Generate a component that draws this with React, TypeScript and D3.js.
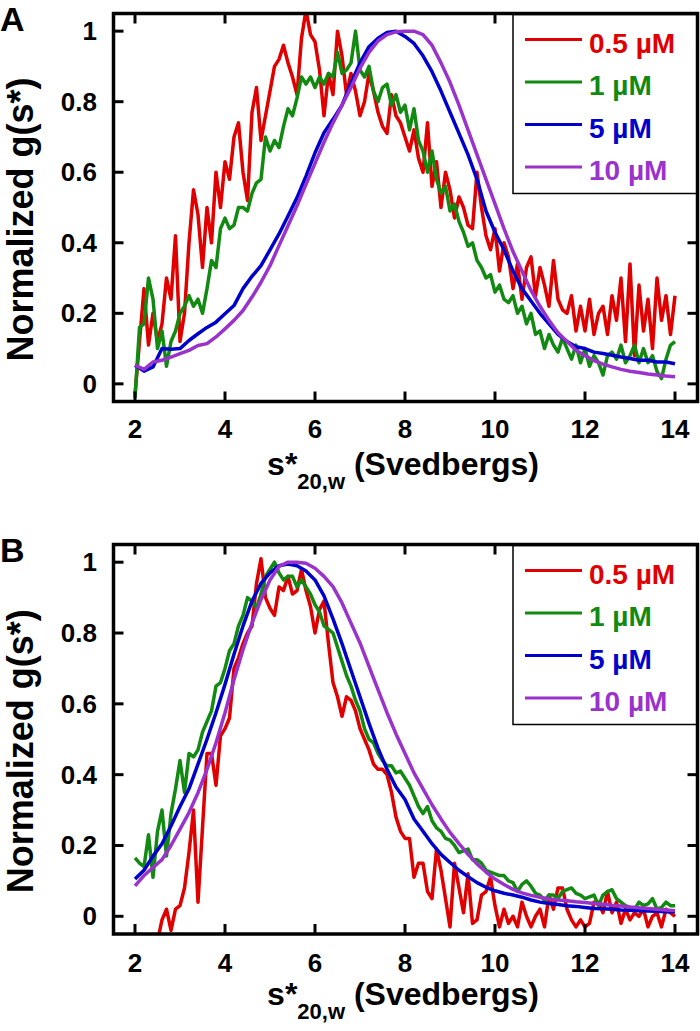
import React from 'react';
import * as d3 from 'd3';

const FONT = "'Liberation Sans', Arial, Helvetica, sans-serif";

const SERIES_LABELS = ['0.5 µM', '1 µM', '5 µM', '10 µM'];
const SERIES_COLORS = ['#e00000', '#128a12', '#0000cc', '#9933cc'];

const X_TICKS = [2, 4, 6, 8, 10, 12, 14];
const Y_TICKS = [0, 0.2, 0.4, 0.6, 0.8, 1];
const Y_TICK_LABELS = ['0', '0.2', '0.4', '0.6', '0.8', '1'];

// sampling grids (s*, Svedbergs)
const FINE_X = d3.range(121).map((i) => +(2 + i * 0.1).toFixed(1));
const COARSE_X = d3.range(61).map((i) => +(2 + i * 0.2).toFixed(1));

// ---------- Panel A ----------
const A_RED = [
  -0.03, 0.12, 0.27, 0.11, 0.2, 0.12, 0.17, 0.3, 0.24, 0.42,
  0.12, 0.2, 0.4, 0.55, 0.48, 0.33, 0.5, 0.4, 0.6, 0.5,
  0.63, 0.58, 0.7, 0.74, 0.6, 0.52, 0.77, 0.84, 0.69, 0.76,
  0.83, 0.9, 0.92, 0.96, 0.91, 0.87, 0.82, 0.98, 1.06, 0.99,
  0.97, 0.89, 0.76, 0.88, 0.82, 1.0, 0.93, 0.82, 0.88, 0.83,
  0.76, 0.8, 0.88, 0.83, 0.77, 0.73, 0.71, 0.82, 0.76, 0.74,
  0.7, 0.66, 0.72, 0.64, 0.6, 0.74, 0.56, 0.63, 0.5, 0.6,
  0.55, 0.47, 0.53, 0.5, 0.45, 0.44, 0.6, 0.5, 0.42, 0.38,
  0.44, 0.32, 0.4, 0.36, 0.27, 0.34, 0.24, 0.33, 0.36, 0.25,
  0.33, 0.28, 0.22, 0.35, 0.24, 0.21, 0.2, 0.25, 0.15, 0.22,
  0.15, 0.24, 0.14, 0.2, 0.22, 0.14, 0.25, 0.18, 0.3, 0.12,
  0.34, 0.08, 0.28, 0.15, 0.24, 0.1, 0.3, 0.18, 0.25, 0.14,
  0.25,
];
const A_GREEN = [
  -0.04, 0.16, 0.17, 0.3, 0.24, 0.1, 0.15, 0.05, 0.12, 0.15,
  0.2, 0.22, 0.25, 0.22, 0.24, 0.2, 0.27, 0.35, 0.33, 0.44,
  0.47, 0.44, 0.45, 0.5, 0.5, 0.49, 0.54, 0.57, 0.58, 0.7,
  0.66, 0.69, 0.67, 0.73, 0.78, 0.76, 0.81, 0.87, 0.85, 0.87,
  0.84, 0.87, 0.85, 0.88, 0.87, 0.94, 0.88, 0.89, 0.91, 1.0,
  0.89, 0.87, 0.9, 0.83, 0.8, 0.84, 0.85, 0.79, 0.82, 0.77,
  0.79, 0.72, 0.78, 0.69, 0.66, 0.6, 0.66, 0.58, 0.54, 0.56,
  0.49, 0.51, 0.46, 0.43, 0.39, 0.4, 0.35, 0.33, 0.3, 0.31,
  0.26, 0.28, 0.24, 0.23, 0.25, 0.2, 0.22, 0.17, 0.2, 0.14,
  0.15, 0.1, 0.14, 0.11, 0.09, 0.13, 0.1, 0.07, 0.11, 0.06,
  0.1, 0.05, 0.08, 0.06, 0.025, 0.08, 0.09, 0.07, 0.11, 0.06,
  0.08, 0.11, 0.06, 0.1, 0.06, 0.08, 0.035, 0.015, 0.07, 0.11,
  0.12,
];
const A_BLUE = [
  0.053, 0.036, 0.048, 0.1, 0.098, 0.1, 0.123, 0.142, 0.16, 0.175,
  0.199, 0.222, 0.27, 0.305, 0.335, 0.38, 0.425, 0.476, 0.528, 0.589,
  0.655, 0.712, 0.75, 0.79, 0.853, 0.91, 0.956, 0.98, 0.996, 1.0,
  0.985, 0.965, 0.93, 0.885, 0.83, 0.77, 0.71, 0.65, 0.58, 0.49,
  0.43, 0.38, 0.32, 0.27, 0.235, 0.2, 0.17, 0.14, 0.12, 0.105,
  0.1, 0.09, 0.086, 0.081, 0.076, 0.072, 0.067, 0.067, 0.062, 0.062,
  0.057,
];
const A_PURPLE = [
  0.053, 0.041, 0.062, 0.067, 0.076, 0.086, 0.095, 0.109, 0.114, 0.133,
  0.156, 0.18, 0.208, 0.246, 0.288, 0.335, 0.392, 0.448, 0.505, 0.566,
  0.625, 0.685, 0.74, 0.79, 0.84, 0.895, 0.94, 0.972, 0.99, 0.998,
  1.0, 1.0, 0.99, 0.96, 0.91, 0.855, 0.79, 0.72, 0.65, 0.58,
  0.51, 0.44, 0.375, 0.32, 0.265, 0.22, 0.18, 0.145, 0.12, 0.095,
  0.08, 0.066, 0.056, 0.048, 0.041, 0.036, 0.032, 0.028, 0.025, 0.022,
  0.02,
];

// ---------- Panel B ----------
const B_RED = [
  -0.12, -0.1, -0.15, -0.09, -0.12, -0.07, -0.01, 0.02, -0.04, 0.02,
  0.03, 0.08, 0.18, 0.3, 0.04, 0.25, 0.46, 0.46, 0.37, 0.51,
  0.53, 0.56, 0.7, 0.73, 0.77, 0.8, 0.82, 0.94, 1.01, 0.9,
  0.87, 0.85, 0.93, 0.92, 0.96, 0.91, 0.92, 0.98, 0.92, 0.875,
  0.8, 0.866, 0.89, 0.77, 0.66, 0.62, 0.565, 0.62, 0.61, 0.58,
  0.53, 0.5, 0.47, 0.43, 0.415, 0.415, 0.4, 0.35, 0.28, 0.24,
  0.22, 0.22, 0.11, 0.15, 0.15, 0.07, 0.05, 0.19, 0.13, 0.05,
  -0.03, 0.15, 0.08, 0.01, 0.12, -0.02, -0.01, 0.06, 0.07, 0.11,
  0.03, -0.03, 0.02, -0.02, 0.0, -0.03, 0.04, 0.0, -0.03, 0.0,
  0.02, -0.03, 0.06, 0.02, 0.08, 0.08, 0.02, -0.01, -0.03, -0.01,
  -0.03, -0.02, 0.04, 0.04, 0.01, 0.07, 0.01, 0.04, -0.02, 0.02,
  -0.01, 0.01, 0.0, 0.02, -0.03, 0.0, 0.01, -0.03, 0.02, 0.01,
  0.0,
];
const B_GREEN = [
  0.165, 0.15, 0.14, 0.23, 0.11, 0.24, 0.3, 0.17, 0.29, 0.36,
  0.44, 0.35, 0.46, 0.45, 0.47, 0.52, 0.55, 0.58, 0.65, 0.66,
  0.7, 0.75, 0.77, 0.82, 0.85, 0.9, 0.89, 0.87, 0.91, 0.96,
  0.98, 1.0, 0.97, 0.95, 0.96, 0.96, 0.93, 0.95, 0.93, 0.91,
  0.88, 0.86, 0.82, 0.81, 0.8, 0.76, 0.72, 0.68, 0.65, 0.61,
  0.58, 0.53, 0.5, 0.49, 0.46, 0.44, 0.425, 0.425, 0.405, 0.41,
  0.39, 0.37, 0.34, 0.31, 0.29, 0.31, 0.27, 0.25, 0.24, 0.22,
  0.215, 0.2, 0.18, 0.185, 0.19, 0.16, 0.16, 0.15, 0.13, 0.125,
  0.12, 0.115, 0.115, 0.1, 0.095, 0.07, 0.09, 0.1, 0.085, 0.065,
  0.06, 0.045, 0.06, 0.06, 0.05, 0.07, 0.075, 0.08, 0.065, 0.06,
  0.05, 0.055, 0.06, 0.03, 0.06, 0.07, 0.075, 0.05, 0.04, 0.03,
  0.025, 0.02, 0.04, 0.03, 0.035, 0.05, 0.02, 0.025, 0.04, 0.03,
  0.03,
];
const B_BLUE = [
  0.105, 0.13, 0.17, 0.205, 0.255, 0.31, 0.36, 0.43, 0.5, 0.575,
  0.655, 0.74, 0.82, 0.89, 0.94, 0.97, 0.99, 0.995, 0.99, 0.975,
  0.95, 0.905, 0.84, 0.77, 0.695, 0.62, 0.545, 0.475, 0.415, 0.365,
  0.33, 0.275, 0.24, 0.205, 0.175, 0.152, 0.13, 0.112, 0.095, 0.082,
  0.072, 0.065, 0.06, 0.054, 0.046, 0.04, 0.036, 0.033, 0.03, 0.028,
  0.025, 0.022, 0.021, 0.02, 0.018, 0.017, 0.016, 0.015, 0.014, 0.013,
  0.013,
];
const B_PURPLE = [
  0.086, 0.115, 0.138, 0.16, 0.2, 0.246, 0.293, 0.349, 0.415, 0.49,
  0.575, 0.668, 0.753, 0.828, 0.894, 0.95, 0.988, 1.0, 1.0, 0.997,
  0.983, 0.96, 0.931, 0.885, 0.828, 0.772, 0.706, 0.64, 0.575, 0.515,
  0.46, 0.405, 0.36, 0.315, 0.275, 0.237, 0.205, 0.175, 0.148, 0.125,
  0.105, 0.09, 0.076, 0.066, 0.059, 0.054, 0.049, 0.046, 0.044, 0.041,
  0.039, 0.036, 0.034, 0.031, 0.029, 0.026, 0.024, 0.022, 0.02, 0.018,
  0.016,
];

const X_DOMAIN: [number, number] = [1.5, 14.5];
const Y_DOMAIN: [number, number] = [-0.05, 1.05];

type PanelProps = {
  id: string;
  letter: string;
  top: number;
  bottom: number;
  tickLabelY: number;
  titleY: number;
  series: { xs: number[]; ys: number[] }[];
};

const FRAME_LEFT = 113.5;
const FRAME_RIGHT = 697.5;

function Panel({ id, letter, top, bottom, tickLabelY, titleY, series }: PanelProps) {
  const x = d3.scaleLinear().domain(X_DOMAIN).range([112.5, 697.5]);
  const y = d3.scaleLinear().domain(Y_DOMAIN).range([bottom, top]);
  const line = d3
    .line<[number, number]>()
    .x((d) => x(d[0]))
    .y((d) => y(d[1]));
  const clipId = `clip-${id}`;
  const legTop = top + 1;
  const legLeft = 513;
  const legRowY = (i: number) => legTop + 25 + i * 42.5;
  const tickLen = 10;
  const midY = (top + bottom) / 2 + 12;
  return (
    <g>
      <defs>
        <clipPath id={clipId}>
          <rect x={FRAME_LEFT} y={top} width={FRAME_RIGHT - FRAME_LEFT} height={bottom - top} />
        </clipPath>
      </defs>
      <g clipPath={`url(#${clipId})`}>
        {series.map((s, i) => (
          <path
            key={i}
            d={line(s.xs.map((v, k) => [v, s.ys[k]] as [number, number])) || ''}
            fill="none"
            stroke={SERIES_COLORS[i]}
            strokeWidth={3.5}
            strokeLinejoin="round"
          />
        ))}
      </g>
      {X_TICKS.map((t) => (
        <g key={`xt${t}`}>
          <line x1={x(t)} x2={x(t)} y1={bottom} y2={bottom - tickLen} stroke="#000" strokeWidth={3} />
          <line x1={x(t)} x2={x(t)} y1={top} y2={top + tickLen} stroke="#000" strokeWidth={3} />
          <text
            x={x(t)}
            y={tickLabelY}
            textAnchor="middle"
            fontFamily={FONT}
            fontWeight="bold"
            fontSize={26}
          >
            {t}
          </text>
        </g>
      ))}
      {Y_TICKS.map((t, i) => (
        <g key={`yt${t}`}>
          <line x1={FRAME_LEFT} x2={FRAME_LEFT + tickLen} y1={y(t)} y2={y(t)} stroke="#000" strokeWidth={3} />
          <line x1={FRAME_RIGHT} x2={FRAME_RIGHT - tickLen} y1={y(t)} y2={y(t)} stroke="#000" strokeWidth={3} />
          <text
            x={97}
            y={y(t) + 9}
            textAnchor="end"
            fontFamily={FONT}
            fontWeight="bold"
            fontSize={26}
          >
            {Y_TICK_LABELS[i]}
          </text>
        </g>
      ))}
      <rect
        x={legLeft}
        y={legTop}
        width={FRAME_RIGHT - legLeft}
        height={179}
        fill="#fff"
        stroke="#000"
        strokeWidth={1.5}
      />
      {SERIES_LABELS.map((lab, i) => (
        <g key={lab}>
          <line x1={525} x2={582} y1={legRowY(i)} y2={legRowY(i)} stroke={SERIES_COLORS[i]} strokeWidth={3} />
          <text
            x={589}
            y={legRowY(i) + 13}
            fill={SERIES_COLORS[i]}
            fontFamily={FONT}
            fontWeight="bold"
            fontSize={28}
          >
            {lab}
          </text>
        </g>
      ))}
      <rect
        x={FRAME_LEFT}
        y={top}
        width={FRAME_RIGHT - FRAME_LEFT}
        height={bottom - top}
        fill="none"
        stroke="#000"
        strokeWidth={3.5}
      />
      <text x={403} y={titleY} textAnchor="middle" fontFamily={FONT} fontWeight="bold" fontSize={32}>
        <tspan>s*</tspan>
        <tspan fontSize={22} dy={14}>20,w</tspan>
        <tspan dy={-14}> (Svedbergs)</tspan>
      </text>
      <text
        transform={`translate(33,${midY}) rotate(-90)`}
        textAnchor="middle"
        fontFamily={FONT}
        fontWeight="bold"
        fontSize={36}
      >
        Normalized g(s*)
      </text>
      <text x={0} y={top + 17} fontFamily={FONT} fontWeight="bold" fontSize={34}>
        {letter}
      </text>
    </g>
  );
}

export default function App() {
  return (
    <svg
      width={700}
      height={1031}
      viewBox="0 0 700 1031"
      style={{ position: 'absolute', left: 0, top: 0, background: '#fff' }}
    >
      <rect x={0} y={0} width={700} height={1031} fill="#fff" />
      <Panel
        id="A"
        letter="A"
        top={13.5}
        bottom={401.5}
        tickLabelY={438}
        titleY={475}
        series={[
          { xs: FINE_X, ys: A_RED },
          { xs: FINE_X, ys: A_GREEN },
          { xs: COARSE_X, ys: A_BLUE },
          { xs: COARSE_X, ys: A_PURPLE },
        ]}
      />
      <Panel
        id="B"
        letter="B"
        top={544.5}
        bottom={934}
        tickLabelY={972}
        titleY={1005}
        series={[
          { xs: FINE_X, ys: B_RED },
          { xs: FINE_X, ys: B_GREEN },
          { xs: COARSE_X, ys: B_BLUE },
          { xs: COARSE_X, ys: B_PURPLE },
        ]}
      />
    </svg>
  );
}
